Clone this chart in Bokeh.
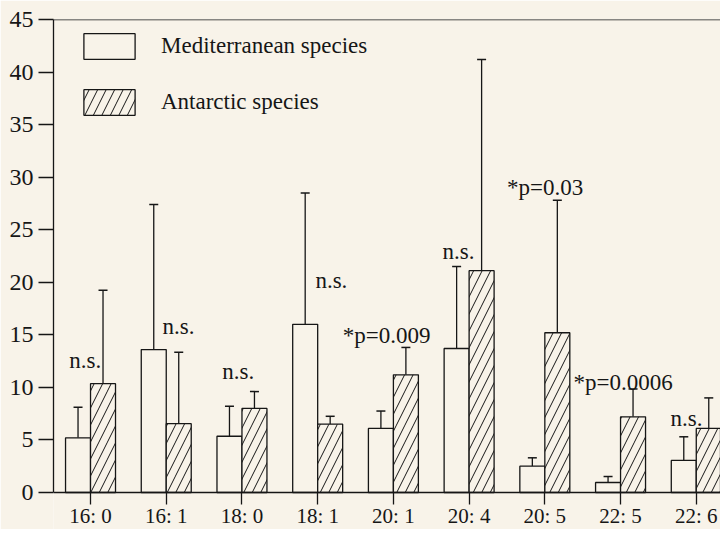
from bokeh.plotting import figure
from bokeh.models import (ColumnDataSource, Range1d, FixedTicker, Whisker, TeeHead,
                          Legend, LegendItem, Span)
from bokeh.core.properties import value
from bokeh.embed import file_html
from bokeh.resources import INLINE

# ---- data ----
categories = ["16: 0", "16: 1", "18: 0", "18: 1", "20: 1", "20: 4", "20: 5", "22: 5", "22: 6"]
med_mean = [5.2, 13.6, 5.35, 16.0, 6.1, 13.7, 2.5, 0.95, 3.05]
med_err = [2.9, 13.8, 2.85, 12.5, 1.65, 7.8, 0.8, 0.57, 2.25]
ant_mean = [10.35, 6.55, 8.0, 6.5, 11.2, 21.1, 15.2, 7.2, 6.1]
ant_err = [8.9, 6.8, 1.6, 0.75, 2.6, 20.1, 12.6, 2.65, 2.9]

ann_text = ["n.s.", "n.s.", "n.s.", "n.s.", "*p=0.009", "n.s.", "*p=0.03", "*p=0.0006", "n.s."]
ann_x = [-0.28, 0.95, 1.74, 2.97, 3.33, 4.65, 5.50, 6.38, 7.66]
ann_y = [12.6, 15.8, 11.5, 20.2, 14.95, 22.9, 29.05, 10.5, 7.0]

y_ticks = [0, 5, 10, 15, 20, 25, 30, 35, 40, 45]

BG = "#f8f3e9"
INK = "#161616"
FONT = "Liberation Serif"
BW = 0.33

pos = list(range(len(categories)))
src = ColumnDataSource(dict(
    pos_med=[i - BW / 2 for i in pos],
    pos_ant=[i + BW / 2 for i in pos],
    med=med_mean,
    ant=ant_mean,
    med_up=[m + e for m, e in zip(med_mean, med_err)],
    ant_up=[m + e for m, e in zip(ant_mean, ant_err)],
))

p = figure(width=720, height=529, x_range=Range1d(-0.489, 8.32), y_range=Range1d(-3.52, 45),
           output_backend="svg", toolbar_location=None,
           min_border_left=53, min_border_right=0, min_border_top=19, min_border_bottom=0,
           background_fill_color=BG, border_fill_color=BG, outline_line_color=None)
p.grid.visible = False

r1 = p.vbar(x="pos_med", top="med", width=BW, bottom=0, source=src,
            fill_color=BG, line_color=INK, line_width=1.3)
r2 = p.vbar(x="pos_ant", top="ant", width=BW, bottom=0, source=src,
            fill_color=BG, line_color=INK, line_width=1.3,
            hatch_pattern="/", hatch_color=INK, hatch_weight=1.0, hatch_scale=17)

for base, lo, up in (("pos_med", "med", "med_up"), ("pos_ant", "ant", "ant_up")):
    w = Whisker(source=src, base=base, lower=lo, upper=up, dimension="height",
                line_color=INK, line_width=1.3, lower_head=None,
                upper_head=TeeHead(size=9, line_color=INK, line_width=1.5))
    p.add_layout(w)

p.text(x=ann_x, y=ann_y, text=ann_text, text_font=value(FONT), text_font_size="23px",
       text_align="left", text_baseline="alphabetic", text_color=INK)

# top border line
p.add_layout(Span(location=45, dimension="width", line_color=INK, line_width=1.3))

# axes
xa = p.xaxis[0]
xa.fixed_location = 0
xa.ticker = FixedTicker(ticks=pos)
xa.major_label_overrides = {i: c for i, c in zip(pos, categories)}
xa.major_tick_out = 12
xa.major_tick_in = 0
xa.minor_tick_line_color = None
xa.major_label_standoff = -1
xa.axis_line_color = INK
xa.axis_line_width = 1.3
xa.major_tick_line_color = INK
xa.major_tick_line_width = 1.3
xa.major_label_text_font = FONT
xa.major_label_text_font_size = "21px"
xa.major_label_text_color = INK

ya = p.yaxis[0]
ya.bounds = (0, 45)
ya.ticker = FixedTicker(ticks=y_ticks)
ya.major_tick_out = 15
ya.major_tick_in = 0
ya.minor_tick_line_color = None
ya.major_label_standoff = 5
ya.axis_line_color = INK
ya.axis_line_width = 1.3
ya.major_tick_line_color = INK
ya.major_tick_line_width = 1.3
ya.major_label_text_font = FONT
ya.major_label_text_font_size = "24px"
ya.major_label_text_color = INK

legend = Legend(items=[LegendItem(label="Mediterranean species", renderers=[r1]),
                       LegendItem(label="Antarctic species", renderers=[r2])],
                location=(24, 411), glyph_width=64, glyph_height=32, label_height=32,
                spacing=24, padding=0, margin=0, border_line_color=None,
                background_fill_alpha=0, label_standoff=20,
                label_text_font=FONT, label_text_font_size="23px", label_text_color=INK)
p.add_layout(legend)

open("out.html", "w").write(file_html(p, INLINE))
